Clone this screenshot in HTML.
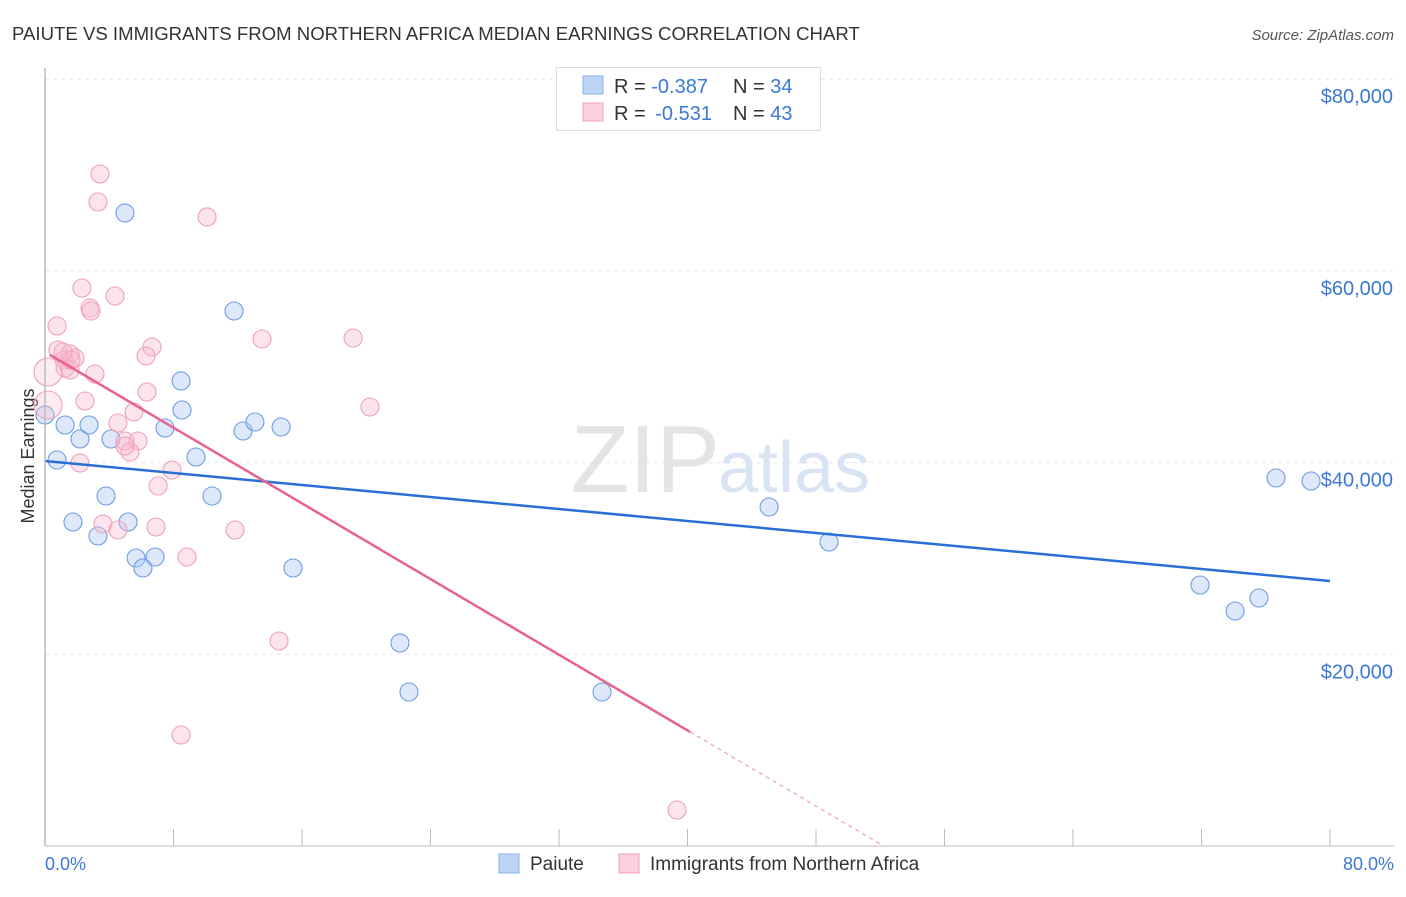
<!DOCTYPE html>
<html><head><meta charset="utf-8"><style>
body{margin:0;background:#fff;font-family:"Liberation Sans",sans-serif;}
svg text{font-family:"Liberation Sans",sans-serif;}
</style></head><body>
<svg id="chart" width="1406" height="892" xmlns="http://www.w3.org/2000/svg">
<text x="12" y="40" font-size="18.6" fill="#333">PAIUTE VS IMMIGRANTS FROM NORTHERN AFRICA MEDIAN EARNINGS CORRELATION CHART</text>
<text x="1394" y="40" font-size="15" fill="#555" text-anchor="end" font-style="italic">Source: ZipAtlas.com</text>
<text x="34" y="456" font-size="18" fill="#333" text-anchor="middle" transform="rotate(-90 34 456)">Median Earnings</text>
<g id="grid"></g>
<g id="ticks"></g>
<text x="720" y="492" font-size="96" fill="#e4e4e4" text-anchor="end" font-family="Liberation Serif">ZIP</text>
<text x="718" y="492" font-size="72" fill="#d8e4f4">atlas</text>
<g id="pts"></g>
<g id="lines"></g>
<line x1="45" y1="68" x2="45" y2="846" stroke="#bbb" stroke-width="1.5"/>
<line x1="45" y1="846" x2="1394" y2="846" stroke="#bbb" stroke-width="1"/>
<text x="45" y="870" font-size="18" fill="#3b78d8">0.0%</text>
<text x="1394" y="870" font-size="18" fill="#3b78d8" text-anchor="end">80.0%</text>
<g>
<rect x="556.5" y="67.5" width="264" height="63" fill="#fff" stroke="#ddd"/>
<rect x="583" y="76" width="20" height="18" fill="#bcd4f6" stroke="#8ab0e8"/>
<rect x="583" y="103" width="20" height="18" fill="#fbd0dc" stroke="#f0a0b8"/>
<text x="614" y="93" font-size="20" fill="#333">R = <tspan fill="#3b78d8">-0.387</tspan><tspan x="733">N = </tspan><tspan fill="#3b78d8">34</tspan></text>
<text x="614" y="120" font-size="20" fill="#333">R = <tspan fill="#3b78d8" dx="4">-0.531</tspan><tspan x="733">N = </tspan><tspan fill="#3b78d8">43</tspan></text>
</g>
<g>
<rect x="499" y="854" width="20" height="19" fill="#bcd4f6" stroke="#8ab0e8"/>
<text x="530" y="870" font-size="19" fill="#333">Paiute</text>
<rect x="619" y="854" width="20" height="19" fill="#fbd0dc" stroke="#f0a0b8"/>
<text x="650" y="870" font-size="19" fill="#333">Immigrants from Northern Africa</text>
</g>
</svg>
<script>
const yTicks=[20000,40000,60000,80000];
const yTickLabels=["$20,000","$40,000","$60,000","$80,000"];
const xTicks=[0,8,16,24,32,40,48,56,64,72,80];
const paiuteX=[0,0.75,1.25,1.74,2.18,2.74,3.30,3.80,4.11,5.17,4.98,5.67,6.10,6.85,7.47,8.47,8.53,9.40,10.40,11.77,12.33,13.07,14.70,15.44,22.10,22.66,34.68,45.08,48.81,71.91,74.09,75.58,76.64,78.82];
const paiuteY=[44967,40270,43923,33803,42463,43923,32342,36516,42463,33803,66043,30047,29004,30152,43610,48515,45488,40584,36516,55817,43297,44236,43714,29004,21179,16067,16067,35368,31716,27230,24518,25874,38393,38080];
const immX=[3.42,3.30,10.09,2.30,4.36,2.80,2.86,0.75,13.51,19.18,6.66,6.29,0.81,1.56,1.18,1.87,1.25,1.56,3.11,0.19,0.19,6.35,2.49,20.23,5.54,4.54,4.98,5.79,5.29,2.18,7.91,7.04,3.61,4.54,6.91,11.83,8.84,14.57,8.47,39.35,4.98,1.62,1.12];
const immY=[70109,67188,65625,58216,57381,56130,55817,54253,52896,53000,52061,51122,51748,51330,50704,50913,49870,49661,49244,49452,46009,47366,46427,45801,45280,44132,42254,42254,41106,39959,39228,37559,33594,32968,33281,32968,30152,21388,11580,3756,41732,50704,51539];
const immBig=[19,20];
const paiuteTrend=[40167,27647];
const immTrend=[51539,-987];
const X=v=>45+v/80*1285;
const Y=v=>846-v/20000*191.7;
const NS="http://www.w3.org/2000/svg";
function mk(tag,attrs,parent){const e=document.createElementNS(NS,tag);for(const k in attrs)e.setAttribute(k,attrs[k]);document.getElementById(parent).appendChild(e);return e;}
yTicks.forEach((t,i)=>{
 const l=mk('line',{x1:45,x2:1394,y1:Y(t),y2:Y(t),stroke:'#e6e6e6','stroke-dasharray':'4,4'},'grid');
 
 
 const tx=mk('text',{x:1393,y:Y(t)+24,'font-size':20,fill:'#3b78d8','text-anchor':'end'},'grid');
 tx.textContent=yTickLabels[i];
 
 
});
xTicks.forEach(t=>{
 const l=mk('line',{x1:X(t),x2:X(t),y1:829,y2:846,stroke:'#bbb'},'ticks');
 
 
});
paiuteX.forEach((x,i)=>{
 const c=mk('circle',{cx:X(x),cy:Y(paiuteY[i]),r:9,fill:'rgba(170,200,242,0.4)',stroke:'#6d9ce4','stroke-width':1.1},'pts');
 
 
});
immX.forEach((x,i)=>{
 const big=immBig.includes(i);
 const c=mk('circle',{cx:X(x),cy:Y(immY[i]),r:big?14:9,fill:big?'rgba(248,190,208,0.3)':'rgba(248,185,205,0.38)',stroke:'#efa0b8','stroke-width':1.1},'pts');
 
 
});
const bl=mk('line',{x1:X(0),y1:Y(paiuteTrend[0]),x2:X(80),y2:Y(paiuteTrend[1]),stroke:'#2a6fd6','stroke-width':2.5},'lines');


const ie=Y(immTrend[0]+immTrend[1]*40.16);
const pl=mk('line',{x1:X(0.3),y1:Y(immTrend[0]+immTrend[1]*0.3),x2:X(40.16),y2:ie,stroke:'#e8628e','stroke-width':2.5},'lines');


const zx=-immTrend[0]/immTrend[1];
const pd=mk('line',{x1:X(40.16),y1:ie,x2:X(zx),y2:Y(0),stroke:'#e8a0b8','stroke-width':1.2,'stroke-dasharray':'4,4'},'lines');


</script>
</body></html>
